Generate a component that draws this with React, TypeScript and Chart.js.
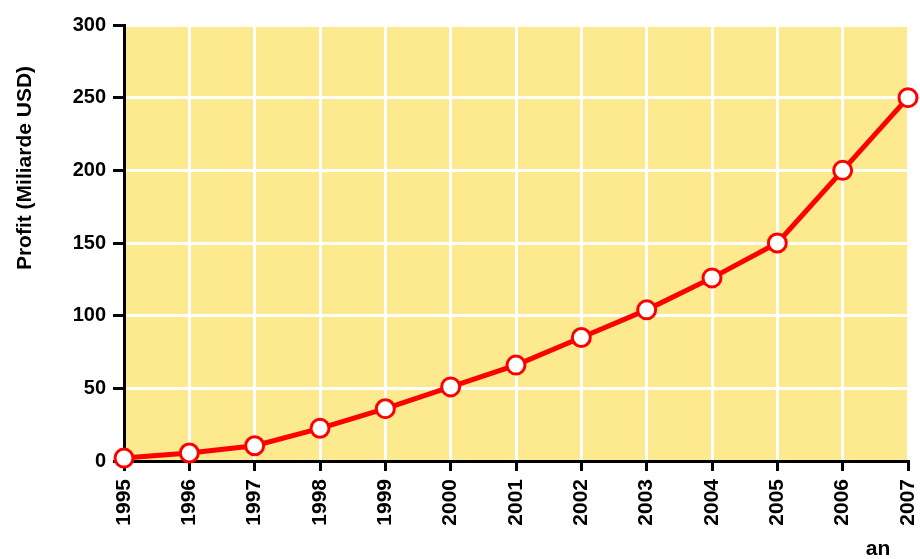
import React, { useEffect, useRef } from "react";
import { Chart, registerables } from "chart.js";

Chart.register(...registerables);

const years = ["1995", "1996", "1997", "1998", "1999", "2000", "2001", "2002", "2003", "2004", "2005", "2006", "2007"];
const profit = [2, 5.5, 10.5, 22.5, 36, 51, 66, 85, 104, 126, 150, 200, 250];
const yTitle = "Profit (Miliarde USD)";
const xTitle = "an";

const FONT = "'Liberation Sans', Arial, sans-serif";

const bgPlugin = {
  id: "bgPlugin",
  beforeDraw(chart: any) {
    const { ctx, chartArea } = chart;
    ctx.save();
    ctx.fillStyle = "#FDEA8F";
    ctx.fillRect(chartArea.left, chartArea.top, chartArea.right - chartArea.left, chartArea.bottom - chartArea.top);
    ctx.restore();
  },
  afterDraw(chart: any) {
    const { ctx } = chart;
    ctx.save();
    ctx.fillStyle = "#000";
    ctx.font = `bold 21px ${FONT}`;
    ctx.textAlign = "center";
    ctx.textBaseline = "middle";
    ctx.translate(25, 168);
    ctx.rotate(-Math.PI / 2);
    ctx.fillText(yTitle, 0, 0);
    ctx.restore();
    ctx.save();
    ctx.fillStyle = "#000";
    ctx.font = `bold 21px ${FONT}`;
    ctx.textAlign = "center";
    ctx.textBaseline = "middle";
    ctx.fillText(xTitle, 878, 549);
    ctx.restore();
  },
};

export default function App() {
  const ref = useRef<HTMLCanvasElement>(null);
  useEffect(() => {
    if (!ref.current) return;
    const chart = new Chart(ref.current, {
      type: "line",
      data: {
        labels: years,
        datasets: [
          {
            data: profit,
            borderColor: "#FF0000",
            borderWidth: 5,
            pointRadius: 9,
            pointBorderWidth: 3,
            pointBackgroundColor: "#FFFFFF",
            pointBorderColor: "#FF0000",
            tension: 0,
            clip: false as any,
          },
        ],
      },
      options: {
        responsive: false,
        animation: false,
        layout: { padding: { top: 25, right: 10, left: 0, bottom: 0 } },
        plugins: { legend: { display: false }, tooltip: { enabled: false } },
        scales: {
          x: {
            offset: false,
            afterFit(scale: any) {
              scale.height = 98;
              scale.paddingRight = 0;
              scale.paddingLeft = 0;
            },
            grid: {
              color: (c: any) => (c.index === 0 ? "rgba(0,0,0,0)" : "#FFFFFF"),
              lineWidth: 3,
              tickColor: "#000",
              tickLength: 10,
              tickWidth: 3,
            },
            border: { display: true, color: "#000", width: 3 },
            ticks: {
              color: "#000",
              font: { family: FONT, size: 21, weight: "bold" },
              minRotation: 90,
              maxRotation: 90,
              padding: 8,
              autoSkip: false,
            },
          },
          y: {
            min: 0,
            max: 300,
            afterFit(scale: any) {
              scale.width = 124;
              scale.paddingTop = 0;
              scale.paddingBottom = 0;
            },
            grid: {
              color: (c: any) => (c.tick && c.tick.value === 0 ? "rgba(0,0,0,0)" : "#FFFFFF"),
              lineWidth: 3,
              tickColor: "#000",
              tickLength: 11,
              tickWidth: 3,
            },
            border: { display: true, color: "#000", width: 3 },
            ticks: {
              stepSize: 50,
              color: "#000",
              font: { family: FONT, size: 20, weight: "bold" },
              padding: 7,
            },
          },
        },
      },
      plugins: [bgPlugin],
    });
    return () => chart.destroy();
  }, []);
  return (
    <div style={{ position: "absolute", left: 0, top: 0, width: 920, height: 559 }}>
      <canvas ref={ref} width={920} height={559} />
    </div>
  );
}
